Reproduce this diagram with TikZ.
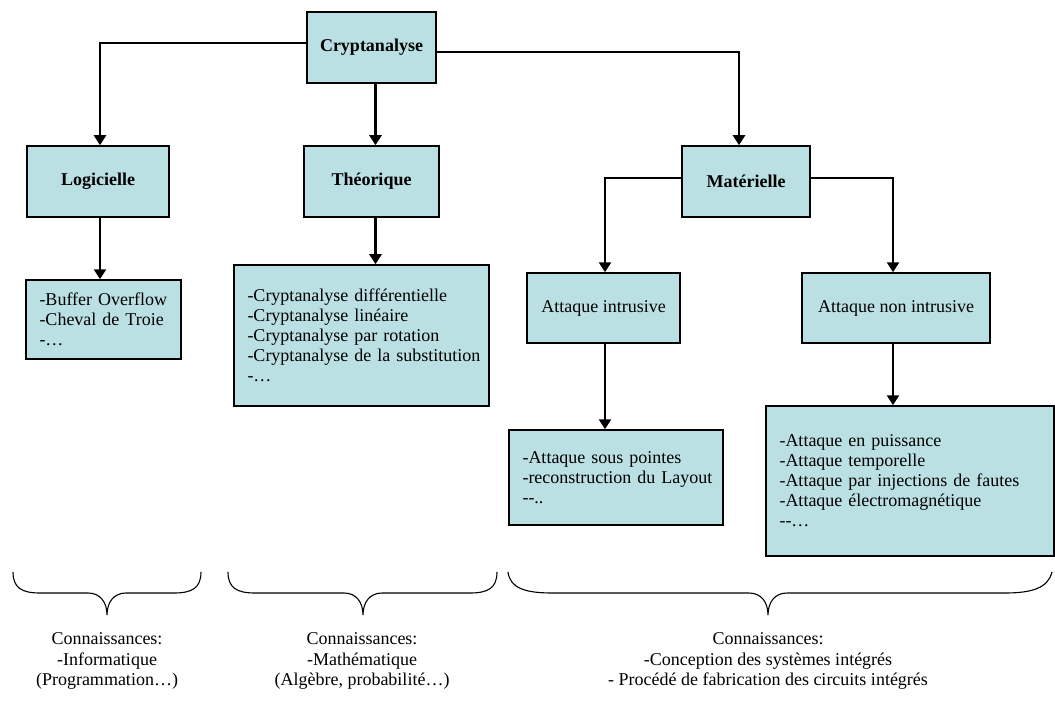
\documentclass[tikz,border=0pt]{standalone}
\usepackage{fontspec}
\setmainfont{Liberation Serif}
\usetikzlibrary{arrows.meta,calc}
\definecolor{boxfill}{HTML}{BBE0E3}
\newcommand\lline[1]{\mbox{#1}}
\tikzset{
  box/.style={draw=black, line width=1.5pt, fill=boxfill, rectangle, inner sep=0pt,
    font=\fontsize{18}{20}\selectfont},
  hdr/.style={box, font=\fontsize{18}{20}\selectfont\bfseries},
  listbox/.style={box, align=left, inner xsep=13.5pt},
  conn/.style={line width=2.5pt, -{Triangle[width=12pt,length=10pt]}},
  brace/.style={line width=1.1pt},
  know/.style={align=center, font=\fontsize{18}{20.5}\selectfont}
}
\begin{document}
\begin{tikzpicture}[x=1pt,y=-1pt]
\useasboundingbox (0,0) rectangle (1055,722);
% header boxes
\node[hdr, minimum width=129pt, minimum height=71pt] (crypt) at (371.5,47.5) {Cryptanalyse};
\node[hdr, minimum width=142pt, minimum height=71pt] (logi) at (98,181.5) {Logicielle};
\node[hdr, minimum width=135pt, minimum height=71pt] (theo) at (371.5,181.5) {Théorique};
\node[hdr, minimum width=128pt, minimum height=71pt] (mat) at (746,181.5) {Matérielle};
\node[box, minimum width=153pt, minimum height=70pt] (intr) at (603.5,308) {Attaque intrusive};
\node[box, minimum width=188pt, minimum height=70pt] (ni) at (896,308) {Attaque non intrusive};
% list boxes
\node[listbox, text width=128pt, minimum height=79pt] (logilist) at (103.5,319.5)
  {\lline{-Buffer Overflow}\\\lline{-Cheval de Troie}\\\lline{-…}};
\node[listbox, text width=228pt, minimum height=141pt] (theolist) at (361.5,335.5)
  {\lline{-Cryptanalyse différentielle}\\\lline{-Cryptanalyse linéaire}\\\lline{-Cryptanalyse par rotation}\\\lline{-Cryptanalyse de la substitution}\\\lline{-…}};
\node[listbox, text width=187pt, minimum height=95pt] (intrlist) at (616,477.5)
  {\lline{-Attaque sous pointes}\\\lline{-reconstruction du Layout}\\\lline{-{}-..}};
\node[listbox, text width=261pt, minimum height=150pt] (nilist) at (910,481)
  {\lline{-Attaque en puissance}\\\lline{-Attaque temporelle}\\\lline{-Attaque par injections de fautes}\\\lline{-Attaque électromagnétique}\\\lline{-{}-…}};
% connectors
\draw[conn] ([yshift=4.5pt]crypt.west) -| ([xshift=2pt]logi.north);
\draw[conn] ([xshift=4pt]crypt.south) -- ([xshift=4pt]theo.north);
\draw[conn] ([yshift=-4.5pt]crypt.east) -| ([xshift=-7pt]mat.north);
\draw[conn] ([yshift=3.5pt]mat.west) -| ([xshift=1.5pt]intr.north);
\draw[conn] ([yshift=3.5pt]mat.east) -| ([xshift=-3pt]ni.north);
\draw[conn] ([xshift=2pt]logi.south) -- ([xshift=2pt]logi.south |- logilist.north);
\draw[conn] ([xshift=4pt]theo.south) -- ([xshift=4pt]theo.south |- theolist.north);
\draw[conn] ([xshift=1.5pt]intr.south) -- ([xshift=1.5pt]intr.south |- intrlist.north);
\draw[conn] ([xshift=-3pt]ni.south) -- ([xshift=-3pt]ni.south |- nilist.north);
% braces
\draw[brace] (13,572) .. controls (13,588) and (22,593) .. (40,593) -- (88,593)
  .. controls (100,593) and (107,602) .. (107,615)
  .. controls (107,602) and (114,593) .. (126,593) -- (174,593)
  .. controls (192,593) and (201,588) .. (201,572);
\draw[brace] (228,572) .. controls (228,588) and (237,593) .. (255,593) -- (344,593)
  .. controls (356,593) and (363,602) .. (363,615)
  .. controls (363,602) and (370,593) .. (382,593) -- (470,593)
  .. controls (488,593) and (497,588) .. (497,572);
\draw[brace] (508,572) .. controls (510,588) and (525,593) .. (552,593) -- (749,593)
  .. controls (761,593) and (768,602) .. (768,615)
  .. controls (768,602) and (775,593) .. (787,593) -- (1005,593)
  .. controls (1032,593) and (1048,588) .. (1052,572);
% knowledge texts
\node[know] (k1) at (107,661) {Connaissances:\\-Informatique\\(Programmation…)};
\node[know] (k2) at (362,661) {Connaissances:\\-Mathématique\\(Algèbre, probabilité…)};
\node[know] (k3) at (768,661) {Connaissances:\\-Conception des systèmes intégrés\\- Procédé de fabrication des circuits intégrés};
\end{tikzpicture}
\end{document}
